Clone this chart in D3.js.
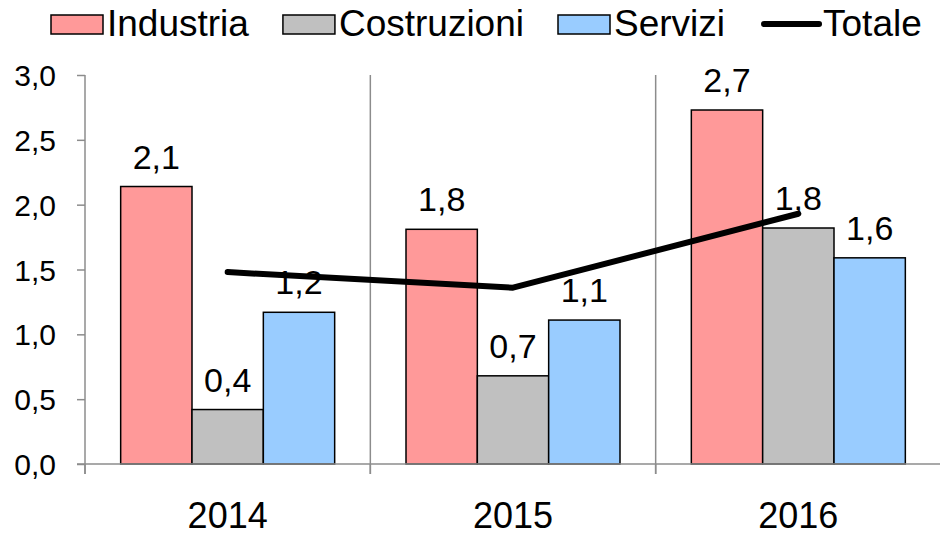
<!DOCTYPE html>
<html><head><meta charset="utf-8">
<script src="https://cdn.jsdelivr.net/npm/d3@7"></script>
<style>body{margin:0;background:#fff}svg{display:block;font-family:"Liberation Sans",Arial,sans-serif}</style>
</head><body><svg id="c" width="940" height="536"></svg>
<script>
const categories = ["2014","2015","2016"];
const seriesNames = ["Industria","Costruzioni","Servizi"];
const industria = [2.14, 1.81, 2.73];
const costruzioni = [0.42, 0.68, 1.82];
const servizi = [1.17, 1.11, 1.59];
const totale = [1.48, 1.36, 1.93];
const barLabels = [["2,1","1,8","2,7"],["0,4","0,7","1,8"],["1,2","1,1","1,6"]];
const yTicks = [0,0.5,1,1.5,2,2.5,3];
const lineName = "Totale";
const colors = ["#FF9999","#C0C0C0","#99CCFF"];

const svg = d3.select("#c");
const x = d3.scaleBand().domain(categories).range([85, 941]).paddingInner(0).paddingOuter(0);
const xs = d3.scaleBand().domain(seriesNames).range([0, x.bandwidth()]).paddingInner(0).paddingOuter(0.5);
const y = d3.scaleLinear().domain([0,3]).range([464, 75]);
const fmt = v => d3.format(".1f")(v).replace(".", ",");

// category separators
svg.append("g").selectAll("line").data(categories.slice(1)).join("line")
  .attr("x1", d => x(d)).attr("x2", d => x(d)).attr("y1", y(3)).attr("y2", 474)
  .attr("stroke", "#8c8c8c").attr("stroke-width", 1.5);

// y axis
const ya = svg.append("g").attr("transform", "translate(85,0)")
  .call(d3.axisLeft(y).tickValues(yTicks).tickFormat(fmt).tickSize(8).tickSizeOuter(0));
ya.select(".domain").attr("stroke", "#8c8c8c").attr("stroke-width", 1.5).attr("d", `M0,${y(3)}V474`);
ya.selectAll(".tick line").attr("stroke", "#8c8c8c").attr("stroke-width", 1.5);
ya.selectAll(".tick text").attr("font-size", 30).attr("fill", "#000").attr("x", -29).attr("dy", "0.35em").attr("font-family","Liberation Sans, Arial, sans-serif");

// bars
const series = [industria, costruzioni, servizi];
series.forEach((vals, si) => {
  const g = svg.append("g");
  g.selectAll("rect").data(categories).join("rect")
    .attr("x", (c) => x(c) + xs(seriesNames[si]))
    .attr("width", xs.bandwidth())
    .attr("y", (c, i) => y(vals[i]))
    .attr("height", (c, i) => y(0) - y(vals[i]))
    .attr("fill", colors[si]).attr("stroke", "#000").attr("stroke-width", 1.5);
});

// x axis
const xa = svg.append("g").attr("transform", "translate(0,464)")
  .call(d3.axisBottom(x).tickSize(0).tickSizeOuter(0));
xa.select(".domain").attr("stroke", "#8c8c8c").attr("stroke-width", 1.5).attr("d", "M77,0H941");
xa.selectAll(".tick text").attr("font-size", 36).attr("fill", "#000").attr("y", 64).attr("dy", 0).attr("font-family","Liberation Sans, Arial, sans-serif");
svg.append("g").selectAll("line").data([85, ...categories.slice(1).map(c => x(c))]).join("line")
  .attr("x1", d => d).attr("x2", d => d).attr("y1", 464).attr("y2", 474)
  .attr("stroke", "#8c8c8c").attr("stroke-width", 1.5);

// total line
const line = d3.line().x((d, i) => x(categories[i]) + x.bandwidth()/2).y(d => y(d));
svg.append("path").datum(totale).attr("d", line).attr("fill", "none")
  .attr("stroke", "#000").attr("stroke-width", 6).attr("stroke-linecap", "round").attr("stroke-linejoin","round");

// bar labels
series.forEach((vals, si) => {
  svg.append("g").selectAll("text").data(categories).join("text")
    .attr("x", c => x(c) + xs(seriesNames[si]) + xs.bandwidth()/2)
    .attr("y", (c, i) => y(vals[i]) - 18)
    .attr("text-anchor", "middle").attr("font-size", 34).attr("fill", "#000")
    .text((c, i) => barLabels[si][i]);
});

// legend
const leg = svg.append("g");
let lx = 51;
const items = [...seriesNames, lineName];
items.forEach((name, i) => {
  if (i < 3) {
    leg.append("rect").attr("x", lx).attr("y", 15).attr("width", 52).attr("height", 19)
      .attr("fill", colors[i]).attr("stroke", "#000").attr("stroke-width", 1.5);
  } else {
    leg.append("line").attr("x1", lx + 5).attr("x2", lx + 60).attr("y1", 24).attr("y2", 24)
      .attr("stroke", "#000").attr("stroke-width", 6).attr("stroke-linecap", "round");
  }
  const t = leg.append("text").attr("x", lx + (i < 3 ? 56 : 64)).attr("y", 36)
    .attr("font-size", 37).attr("fill", "#000").text(name);
  lx += (i < 3 ? 56 : 64) + t.node().getComputedTextLength() + 34;
});
</script></body></html>
